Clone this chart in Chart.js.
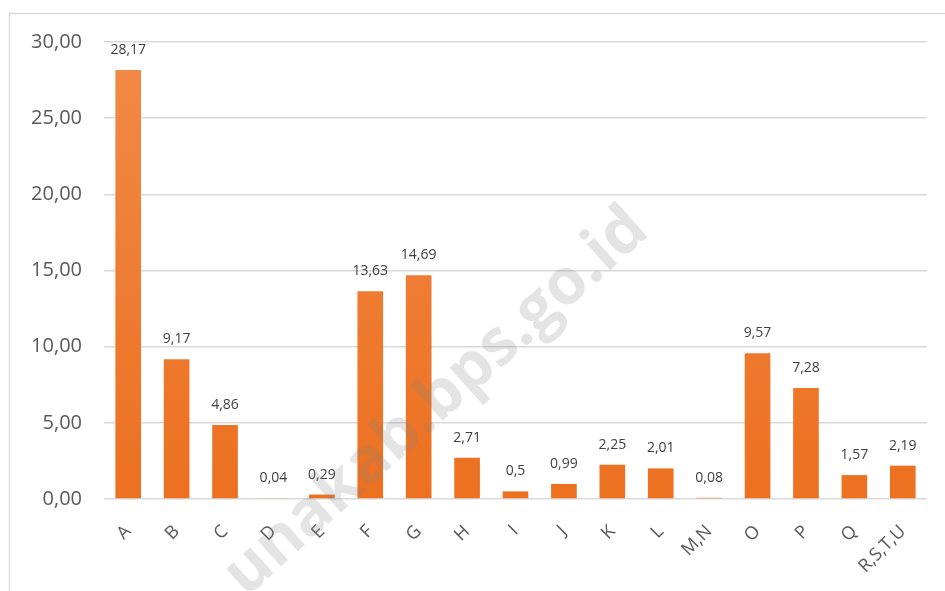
<!DOCTYPE html>
<html>
<head>
<meta charset="utf-8">
<script src="https://cdn.jsdelivr.net/npm/chart.js@4"></script>
<style>
    html, body { margin: 0; padding: 0; background: #fff; }
    #wrap { width: 945px; height: 591px; }
</style>
</head>
<body>
<div id="wrap"><canvas id="barChart" width="945" height="591"></canvas></div>
<script>
// categories and values
const categories = ['A', 'B', 'C', 'D', 'E', 'F', 'G', 'H', 'I', 'J', 'K', 'L', 'M,N', 'O', 'P', 'Q', 'R,S,T,U'];
const shares = [28.17, 9.17, 4.86, 0.04, 0.29, 13.63, 14.69, 2.71, 0.5, 0.99, 2.25, 2.01, 0.08, 9.57, 7.28, 1.57, 2.19];
const yTicks = [0, 5, 10, 15, 20, 25, 30];

const FONT = '"Open Sans", "Noto Sans", sans-serif';

function comma(v) {
    return String(v).replace('.', ',');
}

// frame + watermark + value labels
const decorations = {
    id: 'decorations',
    beforeDraw(chart) {
        const c = chart.ctx;
        c.save();
        c.strokeStyle = '#dcdcdc';
        c.lineWidth = 1.5;
        c.strokeRect(9.5, 13.5, 960, 620);
        c.restore();
    },
    afterDatasetsDraw(chart) {
        const c = chart.ctx;
        const meta = chart.getDatasetMeta(0);
        c.save();
        c.font = '14px ' + FONT;
        c.fillStyle = '#404040';
        c.textAlign = 'center';
        c.textBaseline = 'bottom';
        meta.data.forEach((bar, i) => {
            c.fillText(comma(shares[i]), bar.x, bar.y - 13);
        });
        c.restore();
    },
    afterDraw(chart) {
        const c = chart.ctx;
        c.save();
        c.translate(246, 598);
        c.rotate(-42 * Math.PI / 180);
        c.font = 'bold 64px ' + FONT;
        c.fillStyle = 'rgba(130, 130, 130, 0.22)';
        c.textBaseline = 'alphabetic';
        c.fillText('unakab.bps.go.id', 0, 0);
        c.restore();
    }
};

function barFill(context) {
    const area = context.chart.chartArea;
    if (!area) return '#EF7D30';
    const g = context.chart.ctx.createLinearGradient(0, area.top, 0, area.bottom);
    g.addColorStop(0, '#F28A47');
    g.addColorStop(1, '#EC7020');
    return g;
}

new Chart(document.getElementById('barChart'), {
    type: 'bar',
    data: {
        labels: categories,
        datasets: [{
            data: shares,
            backgroundColor: barFill,
            borderWidth: 0,
            barPercentage: 0.53,
            categoryPercentage: 1
        }]
    },
    options: {
        responsive: false,
        animation: false,
        events: [],
        layout: { padding: { left: 10, right: 18, top: 42, bottom: 0 } },
        plugins: {
            legend: { display: false },
            tooltip: { enabled: false }
        },
        scales: {
            x: {
                grid: { display: false },
                border: { display: false },
                ticks: {
                    color: '#595959',
                    font: { family: FONT, size: 18 },
                    minRotation: 45,
                    maxRotation: 45,
                    padding: 14
                },
                afterFit: s => { s.height = 92; }
            },
            y: {
                min: 0,
                max: 30,
                afterBuildTicks: s => { s.ticks = yTicks.map(v => ({ value: v })); },
                grid: { color: '#d9d9d9', lineWidth: 1.5, drawTicks: false },
                border: { display: false },
                ticks: {
                    color: '#595959',
                    font: { family: FONT, size: 20 },
                    padding: 22,
                    callback: v => v.toFixed(2).replace('.', ',')
                },
                afterFit: s => { s.width = 94; }
            }
        }
    },
    plugins: [decorations]
});
</script>
</body>
</html>
